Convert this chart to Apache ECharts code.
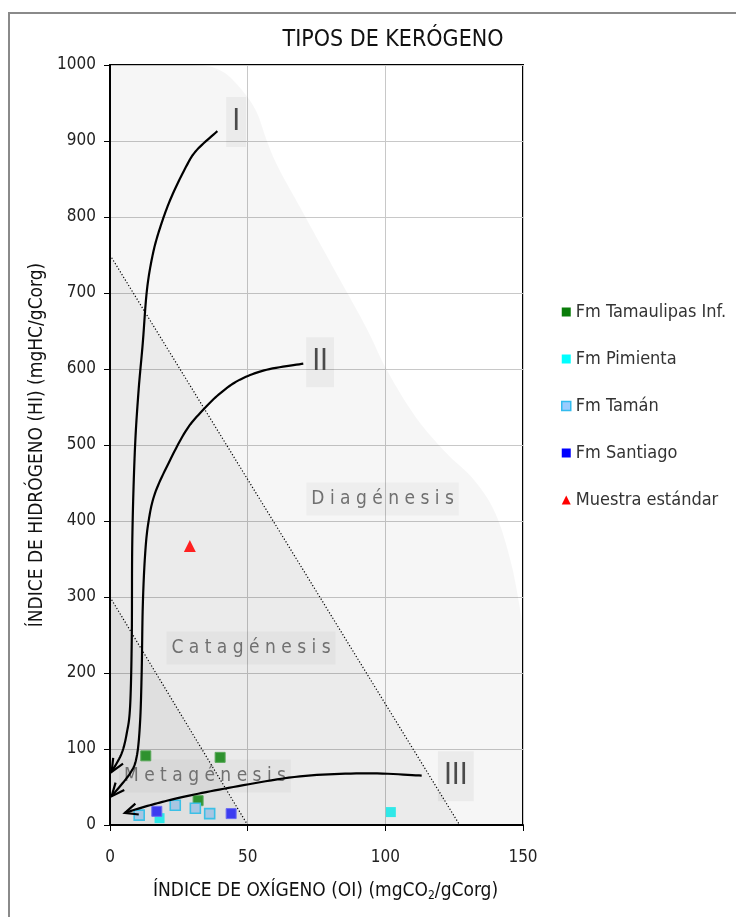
<!DOCTYPE html>
<html><head><meta charset="utf-8">
<script src="https://cdn.jsdelivr.net/npm/echarts@6/dist/echarts.min.js"></script>
<style>html,body{margin:0;padding:0;background:#fff;}#c{width:736px;height:917px;}</style>
</head><body><div id="c"></div>
<script>
// ---- data (IO = x, IH = y) ----
const xTicks = [0, 50, 100, 150];
const yTicks = [0, 100, 200, 300, 400, 500, 600, 700, 800, 900, 1000];
const seriesNames = ['Fm Tamaulipas Inf.', 'Fm Pimienta', 'Fm Tamán', 'Fm Santiago', 'Muestra estándar'];
const tamaulipas = [[13, 91], [40, 89], [32, 32]];
const pimienta = [[18, 9], [102, 17]];
const taman = [[10.6, 13], [23.7, 26], [31, 22], [36.2, 15]];
const santiago = [[17, 18], [44, 15]];
const muestra = [[29, 367]];
// kerogen evolution paths
const curveI = [[39,913],[31.5,888],[27.6,866],[21.8,822],[17.5,778],[15.1,743],[13.3,700],[11.9,634],[10.3,568],[9,490],[8.1,375],[7.9,243],[7.3,156],[6.1,121],[4.2,94],[0.6,70]];
const curveII = [[70.2,607],[56.9,599],[47.2,586],[40,568],[33.5,545],[27.8,520],[21.8,480],[16.3,436],[13.9,397],[12.7,353],[11.9,287],[11.5,200],[10.9,134],[9.7,90],[7.3,68],[0.6,38]];
const curveIII = [[113.2,65],[93.2,68],[69,64],[44.8,50],[26.6,37],[14.5,26],[5.4,16]];
const curveLabels = ['I', 'II', 'III'];
const curveLabelPos = [[45.8, 925], [76.3, 609], [125.6, 64]];
// maturity zones
const envelope = [[0,1000],[30,1000],[40,993],[47,971],[53,940],[57,900],[61,866],[69,813],[81,734],[93,655],[100.5,599],[111,537],[122,490],[132,455],[140,410],[146,340],[150,261]];
const catagenesisZone = [[0,750],[127,0],[0,0]];
const metagenesisZone = [[0,300],[50,0],[0,0]];
const dividerDiag = [[0,750],[127,0]];
const dividerMeta = [[0,300],[50,0]];
const zoneLabels = ['Diagénesis', 'Catagénesis', 'Metagénesis'];
const zoneLabelPos = [[99, 429], [51.2, 233], [34.5, 64.5]];

const FONT = "'Liberation Sans Narrow','DejaVu Sans Condensed','Liberation Sans',sans-serif";
const curves = [curveI, curveII, curveIII];

// Catmull-Rom sampling in pixel space
function spline(pts, steps) {
  const out = [pts[0]];
  for (let i = 0; i < pts.length - 1; i++) {
    const p0 = pts[i - 1] || pts[i], p1 = pts[i], p2 = pts[i + 1], p3 = pts[i + 2] || pts[i + 1];
    const c1 = [p1[0] + (p2[0] - p0[0]) / 6, p1[1] + (p2[1] - p0[1]) / 6];
    const c2 = [p2[0] - (p3[0] - p1[0]) / 6, p2[1] - (p3[1] - p1[1]) / 6];
    for (let s = 1; s <= steps; s++) {
      const t = s / steps, u = 1 - t;
      out.push([
        u*u*u*p1[0] + 3*u*u*t*c1[0] + 3*u*t*t*c2[0] + t*t*t*p2[0],
        u*u*u*p1[1] + 3*u*u*t*c1[1] + 3*u*t*t*c2[1] + t*t*t*p2[1]
      ]);
    }
  }
  return out;
}

const chart = echarts.init(document.getElementById('c'), null, {renderer: 'canvas'});
chart.setOption({
  backgroundColor: '#fff',
  animation: false,
  title: {
    text: 'TIPOS DE KERÓGENO', left: 388, top: 24, textAlign: 'center',
    textStyle: {fontFamily: FONT, fontSize: 23, fontWeight: 'normal', color: '#111'}
  },
  graphic: [{
    type: 'rect', shape: {x: 9, y: 13, width: 740, height: 920},
    style: {fill: 'none', stroke: '#8a8a8a', lineWidth: 2}, silent: true
  }],
  legend: {
    orient: 'vertical', left: 556, top: 298, itemGap: 29, itemWidth: 9, itemHeight: 9,
    textStyle: {fontFamily: FONT, fontSize: 18, color: '#333'},
    data: [
      {name: seriesNames[0], icon: 'rect', itemStyle: {color: '#0a7d0a', borderWidth: 0}},
      {name: seriesNames[1], icon: 'rect', itemStyle: {color: '#00ffff', borderWidth: 0}},
      {name: seriesNames[2], icon: 'rect', itemStyle: {color: '#99ccff', borderColor: '#33bbee', borderWidth: 1.5}},
      {name: seriesNames[3], icon: 'rect', itemStyle: {color: '#0000ff', borderWidth: 0}},
      {name: seriesNames[4], icon: 'triangle', itemStyle: {color: '#ff0000', borderWidth: 0}}
    ]
  },
  grid: {left: 110, top: 65, width: 413, height: 760, show: true, borderColor: '#000', borderWidth: 2, backgroundColor: '#fff'},
  xAxis: {
    type: 'value', min: xTicks[0], max: xTicks[xTicks.length - 1], interval: 50,
    name: 'ÍNDICE DE OXÍGENO (OI) (mgCO{sub|2}/gCorg)', nameLocation: 'middle', nameGap: 55,
    nameTextStyle: {fontFamily: FONT, fontSize: 19, color: '#111', padding: [0, 0, 0, 18],
      rich: {sub: {fontFamily: FONT, fontSize: 12, color: '#111', verticalAlign: 'bottom', padding: [10, 0, 0, 0]}}},
    axisLine: {lineStyle: {color: '#000', width: 2}},
    axisTick: {show: true, length: 6, lineStyle: {color: '#000', width: 1}},
    axisLabel: {margin: 24, fontFamily: FONT, fontSize: 17, color: '#222'},
    splitLine: {show: true, lineStyle: {color: '#c8c8c8', width: 1}}
  },
  yAxis: {
    type: 'value', min: yTicks[0], max: yTicks[yTicks.length - 1], interval: 100,
    name: 'ÍNDICE DE HIDRÓGENO (HI) (mgHC/gCorg)', nameLocation: 'middle', nameGap: 63,
    nameTextStyle: {fontFamily: FONT, fontSize: 19, color: '#111'},
    axisLine: {lineStyle: {color: '#000', width: 2}},
    axisTick: {show: true, length: 6, lineStyle: {color: '#000', width: 1}},
    axisLabel: {margin: 14, fontFamily: FONT, fontSize: 17, color: '#222', formatter: v => String(v)},
    splitLine: {show: true, lineStyle: {color: '#c8c8c8', width: 1}}
  },
  series: [
    {
      type: 'custom', name: 'zones', silent: true, z: 1, clip: true,
      data: [[0, 0, 0]],
      encode: {x: 0, y: 1},
      renderItem: function (params, api) {
        const env = spline(envelope.map(p => api.coord(p)), 10);
        env.push(api.coord([150, 0]), api.coord([0, 0]));
        return {type: 'group', children: [
          {type: 'polygon', shape: {points: env}, style: {fill: 'rgba(0,0,0,0.035)', stroke: 'none'}},
          {type: 'polygon', shape: {points: catagenesisZone.map(p => api.coord(p))}, style: {fill: 'rgba(0,0,0,0.045)', stroke: 'none'}},
          {type: 'polygon', shape: {points: metagenesisZone.map(p => api.coord(p))}, style: {fill: 'rgba(0,0,0,0.05)', stroke: 'none'}}
        ]};
      }
    },
    {
      type: 'line', name: 'divDiag', data: dividerDiag, symbol: 'none', silent: true, z: 3,
      lineStyle: {color: '#000', width: 1.2, type: [1.2, 2]}
    },
    {
      type: 'line', name: 'divMeta', data: dividerMeta, symbol: 'none', silent: true, z: 3,
      lineStyle: {color: '#000', width: 1.2, type: [1.2, 2]}
    },
    {
      type: 'custom', name: 'zoneLabels', silent: true, z: 4,
      data: zoneLabelPos.map((p, i) => [p[0], p[1], i]),
      encode: {x: 0, y: 1},
      renderItem: function (params, api) {
        const i = api.value(2);
        const c = api.coord([api.value(0), api.value(1)]);
        return {type: 'text', x: c[0], y: c[1], style: {
          text: zoneLabels[i].split('').join(' '), fill: '#707070',
          font: "19px " + FONT, align: 'center', verticalAlign: 'middle',
          backgroundColor: 'rgba(0,0,0,0.03)', padding: [7, 5]
        }};
      }
    },
    {
      type: 'custom', name: 'curveLabels', silent: true, z: 4,
      data: curveLabelPos.map((p, i) => [p[0], p[1], i]),
      encode: {x: 0, y: 1},
      renderItem: function (params, api) {
        const i = api.value(2);
        const c = api.coord([api.value(0), api.value(1)]);
        return {type: 'text', x: c[0], y: c[1], style: {
          text: curveLabels[i], fill: '#4a4a4a',
          font: "30px 'DejaVu Sans Condensed','Liberation Sans Narrow',sans-serif", align: 'center', verticalAlign: 'middle',
          backgroundColor: 'rgba(0,0,0,0.045)', padding: [10, 6]
        }};
      }
    },
    {
      type: 'custom', name: 'curves', silent: true, z: 6, clip: false,
      data: curves.map((c, i) => [c[0][0], c[0][1], i]),
      encode: {x: 0, y: 1},
      renderItem: function (params, api) {
        const i = api.value(2);
        const pts = curves[i].map(p => api.coord(p));
        const line = spline(pts, 12);
        const p1 = pts[pts.length - 1], p0 = line[line.length - 4];
        const a = Math.atan2(p1[1] - p0[1], p1[0] - p0[0]);
        const L = 14, w = 0.42;
        const w1 = [p1[0] - L * Math.cos(a - w), p1[1] - L * Math.sin(a - w)];
        const w2 = [p1[0] - L * Math.cos(a + w), p1[1] - L * Math.sin(a + w)];
        return {type: 'group', children: [
          {type: 'polyline', shape: {points: line}, style: {stroke: '#000', lineWidth: 2.2, fill: 'none', lineJoin: 'round'}},
          {type: 'polyline', shape: {points: [w1, p1, w2]}, style: {stroke: '#000', lineWidth: 2.2, fill: 'none'}}
        ]};
      }
    },
    {type: 'scatter', name: seriesNames[0], data: tamaulipas, symbol: 'rect', symbolSize: 10, z: 5,
      itemStyle: {color: '#2e922e', borderColor: '#5aa85a', borderWidth: 1, opacity: 1}},
    {type: 'scatter', name: seriesNames[1], data: pimienta, symbol: 'rect', symbolSize: 10, z: 5,
      itemStyle: {color: '#30e8e8', opacity: 1}},
    {type: 'scatter', name: seriesNames[2], data: taman, symbol: 'rect', symbolSize: 10, z: 5,
      itemStyle: {color: '#a8c6e2', borderColor: '#3cc0e6', borderWidth: 1.6, opacity: 1}},
    {type: 'scatter', name: seriesNames[3], data: santiago, symbol: 'rect', symbolSize: 10, z: 5,
      itemStyle: {color: '#3c3cf0', borderColor: '#6a6af2', borderWidth: 1, opacity: 1}},
    {type: 'scatter', name: seriesNames[4], data: muestra, symbol: 'triangle', symbolSize: 12, z: 5,
      itemStyle: {color: '#ff2020', opacity: 1}}
  ]
});
</script>
</body></html>
